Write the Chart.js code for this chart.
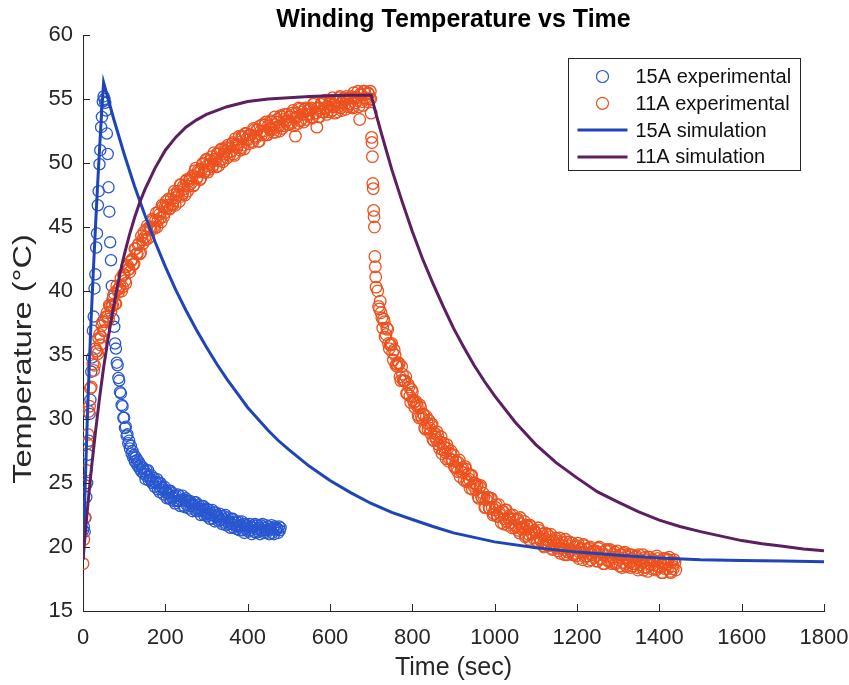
<!DOCTYPE html>
<html>
<head>
<meta charset="utf-8">
<script src="https://cdn.jsdelivr.net/npm/chart.js@4.4.1/dist/chart.umd.min.js"></script>
<style>
  html, body { margin: 0; padding: 0; background: #fff; }
  #wrap { width: 849px; height: 685px; }
</style>
</head>
<body>
<div id="wrap"><canvas id="chart" width="849" height="685"></canvas></div>
<script>
// --- data ---
// 15A experimental, one sample every 2 s from t = 0
const exp15Start = 0;
const exp15Interval = 2;
const exp15Temp = [
  21.3, 21.6, 21.2, 22.3, 23.9, 25.0, 27.2, 28.3, 30.4, 31.5, 33.7, 34.8, 36.9, 38.0,
  40.2, 41.3, 43.4, 44.5, 46.7, 47.8, 49.9, 51.0, 52.8, 53.6, 54.8, 55.2, 55.0, 54.7,
  54.1, 52.3, 50.7, 48.1, 46.2, 43.8, 42.4, 40.4, 39.4, 37.8, 37.2, 35.9, 35.5, 34.4, 34.2,
  33.2, 33.0, 32.1, 32.0, 31.1, 31.0, 30.1, 30.1, 29.3, 29.4, 28.7, 28.8, 28.1, 28.3, 27.7,
  27.9, 27.3, 27.5, 27.0, 27.2, 26.7, 27.0, 26.5, 26.8, 26.3, 26.6, 26.1, 26.4, 25.9, 26.2,
  26.2, 25.7, 25.9, 25.3, 26.0, 25.5, 26.0, 25.2, 25.5, 25.3, 25.6, 25.0,
  25.1, 25.4, 24.7, 25.1, 25.0, 25.3, 24.5, 25.0, 24.3, 25.0, 24.5, 24.7,
  24.6, 24.1, 24.7, 24.3, 24.4, 23.8, 24.2, 24.4, 23.8, 24.4, 23.7, 23.9,
  24.2, 23.6, 23.9, 23.4, 24.0, 23.6, 24.1,
  23.6, 24.0, 23.2, 23.7, 23.6, 24.0, 23.2, 23.7, 23.1, 23.8, 23.3, 23.6,
  23.5, 23.0, 23.6, 23.2, 23.4, 22.8, 23.3, 23.5, 22.9, 23.5, 22.8, 23.0,
  23.3, 22.8, 23.0, 22.5, 23.2, 22.8, 23.2, 22.5, 22.9, 22.6, 23.0, 22.4,
  22.6, 22.9, 22.2, 22.7, 22.5, 22.9, 22.2, 22.7, 22.0, 22.7, 22.3, 22.5,
  22.4, 22.0, 22.6, 22.1, 22.4, 21.8, 22.2, 22.4, 21.9, 22.5, 21.7, 22.0,
  22.3, 21.8, 22.0, 21.5, 22.2, 21.8, 22.2, 21.5, 21.9, 21.7, 22.0, 21.4,
  21.6, 22.0, 21.3, 21.7, 21.6, 22.0, 21.3, 21.8, 21.1, 21.8, 21.4, 21.7,
  21.6, 21.2, 21.8, 21.3, 21.6, 21.0, 21.5, 21.7, 21.2, 21.8, 21.1, 21.4,
  21.7, 21.2, 21.5, 21.0, 21.7, 21.3, 21.8, 21.1, 21.5, 21.3, 21.7, 21.1,
  21.3, 21.6, 21.0, 21.4, 21.4, 21.7, 21.1, 21.5, 21.0, 21.6, 21.3, 21.5,
  21.4, 21.1, 21.6, 21.3, 21.5
];

// 11A experimental, logged in stretches with different sample spacing
const exp11StartTemp = [18.7, 20.6, 22.3, 24.8, 26.0, 28.1, 28.8, 30.6, 31.0, 32.4, 32.5]; // t = 0..20, every 2 s
const exp11HeatTemp = [ // t = 24..696, every 4 s
  34.3, 34.2, 35.3, 35.1, 36.6, 36.4, 37.6, 36.9, 38.0, 38.0, 38.9, 38.4,
  38.9, 39.8, 39.0, 40.1, 40.2, 41.0, 40.3, 41.3, 40.6, 42.0, 41.7, 42.3,
  42.5, 42.1, 43.3, 42.9, 43.7, 43.0, 44.0, 44.6, 44.0, 45.1, 44.2, 44.9,
  45.6, 45.0, 45.5, 45.0, 46.2, 45.7, 46.7, 45.8, 46.6, 46.5, 47.2, 46.5,
  46.8, 47.5, 46.7, 47.6, 47.5, 48.3, 47.4, 48.2, 47.5, 48.7, 48.2, 48.8,
  48.8, 48.2, 49.4, 48.8, 49.4, 48.7, 49.5, 50.0, 49.3, 50.3, 49.3, 49.9,
  50.5, 49.8, 50.3, 49.7, 50.8, 50.2, 51.1, 50.1, 50.9, 50.7, 51.4, 50.6,
  50.9, 51.6, 50.6, 51.5, 51.4, 52.1, 51.2, 52.0, 51.1, 52.3, 51.8, 52.2,
  52.2, 51.6, 52.6, 52.0, 52.6, 51.7, 52.5, 53.0, 52.2, 53.2, 52.2, 52.7,
  53.3, 52.6, 53.0, 52.4, 53.4, 52.9, 53.7, 52.7, 53.4, 53.2, 53.8, 53.0,
  53.2, 53.9, 52.9, 52.1, 53.6, 54.3, 53.3, 54.0, 53.2, 54.3, 53.8, 54.2,
  54.2, 53.5, 54.6, 53.9, 52.8, 53.6, 54.3, 54.7, 54.0, 54.9, 53.8, 54.4,
  54.9, 54.1, 54.6, 53.9, 54.9, 54.4, 55.2, 54.1, 54.9, 54.6, 55.2, 54.4,
  54.6, 55.2, 54.3, 55.1, 54.9, 55.6, 53.4, 55.3, 54.5, 55.6, 55.0, 55.5,
  55.0
];
const exp11HeatTempB = [ // t = 26..694, every 4 s (in-between samples)
  33.8, 35.5, 35.3, 36.3, 35.8, 37.3, 36.9, 37.6, 38.3, 37.8, 38.8, 38.8,
  39.6, 39.0, 40.4, 39.9, 40.4, 40.0, 41.3, 40.8, 41.9, 41.7, 41.5, 42.4,
  42.1, 43.3, 42.9, 43.6, 42.9, 44.3, 43.7, 44.2, 44.8, 44.1, 45.0, 44.8,
  45.5, 44.9, 46.1, 45.5, 46.0, 45.4, 46.6, 46.1, 47.0, 46.7, 46.4, 47.2,
  46.7, 47.8, 47.3, 47.8, 47.0, 48.3, 47.6, 48.0, 48.6, 47.8, 48.6, 48.4,
  49.0, 48.3, 49.6, 48.9, 49.3, 48.8, 49.9, 49.3, 50.2, 49.8, 49.5, 50.2,
  49.7, 50.8, 50.2, 50.7, 49.8, 51.0, 50.3, 50.7, 51.2, 50.4, 51.2, 50.9,
  51.5, 50.7, 51.9, 51.2, 51.6, 51.0, 52.1, 51.4, 52.3, 51.9, 51.5, 52.2,
  51.7, 52.7, 52.1, 52.6, 51.7, 52.9, 52.2, 52.5, 53.0, 52.2, 52.9, 52.6,
  53.2, 52.4, 53.6, 52.8, 53.2, 52.5, 53.6, 52.9, 53.8, 53.3, 53.0, 53.6,
  53.1, 54.1, 53.5, 53.9, 53.1, 54.2, 53.4, 53.8, 54.2, 53.4, 54.1, 53.8,
  54.3, 53.6, 54.7, 53.9, 54.3, 53.6, 54.6, 54.0, 54.8, 54.3, 54.0, 54.6,
  54.0, 55.1, 54.4, 54.8, 54.0, 55.1, 54.3, 54.7, 55.1, 54.2, 55.0, 54.6,
  55.1, 54.4, 55.5, 54.7, 55.1, 54.4, 55.4, 54.8, 55.6, 55.1, 54.8, 55.4
];
const exp11DropTemp = [55.6, 55.0, 53.9, 52.0, 51.6, 50.5, 48.4, 48.0, 46.3, 45.8, 45.0, 42.7, 41.9, 41.1, 40.3]; // t = 698..712, every 1 s
const exp11CoolTemp = [ // t = 716..1440, every 4 s
  40.0, 38.6, 38.3, 37.1, 37.6, 36.6, 37.0, 35.5, 35.8, 35.2, 35.4, 34.2,
  34.1, 34.3, 33.0, 33.5, 33.0, 33.3, 32.0, 32.5, 31.3, 32.1, 31.3, 31.4,
  31.0, 30.1, 30.9, 30.0, 30.3, 29.2, 29.7, 29.9, 28.9, 29.6, 28.3, 28.6,
  29.0, 28.0, 28.2, 27.3, 28.1, 27.4, 28.0, 26.7, 27.3, 26.8, 27.2, 26.2,
  26.2, 26.6, 25.5, 26.1, 25.8, 26.3, 25.1, 25.7, 24.6, 25.6, 24.8, 25.0,
  24.8, 23.9, 24.7, 23.9, 24.2, 23.1, 23.7, 23.9, 23.0, 23.8, 22.5, 22.9,
  23.3, 22.4, 22.7, 21.9, 22.8, 22.2, 22.9, 21.7, 22.3, 21.9, 22.5, 21.5,
  21.6, 22.2, 21.1, 21.8, 21.5, 22.0, 20.9, 21.6, 20.6, 21.6, 21.0, 21.3,
  21.1, 20.4, 21.3, 20.5, 21.0, 20.0, 20.6, 21.0, 20.1, 21.0, 19.8, 20.3,
  20.7, 19.9, 20.2, 19.5, 20.4, 19.8, 20.6, 19.4, 20.1, 19.7, 20.3, 19.4,
  19.5, 20.1, 19.1, 19.8, 19.6, 20.2, 19.2, 19.8, 18.9, 20.0, 19.4, 19.7,
  19.6, 18.9, 19.9, 19.1, 19.6, 18.7, 19.4, 19.8, 18.9, 19.8, 18.7, 19.2,
  19.6, 18.8, 19.2, 18.5, 19.4, 18.8, 19.6, 18.5, 19.2, 18.8, 19.4, 18.5,
  18.7, 19.3, 18.2, 19.0, 18.8, 19.4, 18.4, 19.0, 18.1, 19.2, 18.6, 19.0,
  18.9, 18.2, 19.1, 18.4, 18.9, 18.0, 18.7, 19.1, 18.3, 19.2, 18.0, 18.5,
  19.0, 18.2
];
const exp11CoolTempB = [ // t = 718..1438, every 4 s (in-between samples)
  38.8, 39.2, 37.9, 37.8, 36.4, 37.1, 35.9, 35.8, 35.9, 34.6, 35.0, 34.3,
  34.4, 33.3, 34.1, 33.0, 33.0, 32.0, 32.7, 31.8, 32.3, 31.5, 30.9, 31.2,
  30.3, 31.1, 30.2, 30.4, 29.3, 30.2, 29.2, 29.3, 29.5, 28.4, 28.9, 28.4,
  28.7, 27.7, 28.6, 27.6, 27.8, 26.9, 27.7, 26.9, 27.5, 26.8, 26.3, 26.7,
  25.9, 26.8, 25.9, 26.2, 25.2, 26.1, 25.2, 25.3, 25.6, 24.5, 25.0, 24.5,
  24.8, 23.8, 24.8, 23.8, 23.9, 23.1, 23.9, 23.1, 23.8, 23.1, 22.6, 23.1,
  22.4, 23.3, 22.5, 22.8, 21.8, 22.9, 22.0, 22.2, 22.5, 21.5, 22.2, 21.7,
  22.1, 21.3, 22.3, 21.4, 21.6, 20.8, 21.7, 21.0, 21.7, 21.1, 20.7, 21.2,
  20.5, 21.5, 20.7, 21.0, 20.1, 21.1, 20.2, 20.5, 20.8, 19.9, 20.5, 20.1,
  20.5, 19.7, 20.7, 19.9, 20.1, 19.4, 20.4, 19.6, 20.4, 19.8, 19.4, 20.0,
  19.3, 20.3, 19.6, 19.9, 19.0, 20.1, 19.3, 19.5, 19.9, 19.0, 19.7, 19.2,
  19.7, 18.9, 20.0, 19.1, 19.4, 18.7, 19.7, 19.0, 19.7, 19.2, 18.8, 19.4,
  18.7, 19.7, 19.0, 19.4, 18.4, 19.5, 18.7, 19.0, 19.4, 18.4, 19.1, 18.7,
  19.2, 18.4, 19.4, 18.6, 18.9, 18.2, 19.2, 18.4, 19.2, 18.7, 18.3, 18.9,
  18.3, 19.3, 18.5, 18.9, 18.0, 19.1, 18.3, 18.6, 19.0, 18.1, 18.8, 18.3,
  18.8
];

// simulations
const sim15Time = [0, 5, 10, 15, 20, 25, 30, 35, 40, 45, 50, 75, 100, 125, 150, 175, 200, 225, 250, 275,
  300, 325, 350, 375, 400, 425, 450, 475, 500, 550, 600, 650, 700, 750, 800, 850, 900, 950, 1000, 1100,
  1200, 1300, 1400, 1500, 1600, 1700, 1800];
const sim15Temp = [19.0, 24.5, 29.5, 34.0, 38.0, 41.5, 44.8, 48.0, 51.0, 53.8, 56.3, 53.4, 50.7, 48.2, 45.95, 43.85, 41.9, 40.1, 38.5, 37.0,
  35.6, 34.3, 33.1, 32.0, 30.9, 30.0, 29.1, 28.3, 27.6, 26.3, 25.2, 24.25, 23.4, 22.7, 22.15, 21.6, 21.1, 20.75, 20.4, 19.95,
  19.6, 19.35, 19.15, 19.0, 18.95, 18.9, 18.85];

const sim11Time = [0, 10, 20, 30, 40, 50, 60, 70, 80, 90, 100, 112.5, 125, 137.5, 150, 175, 200, 225, 250, 275,
  300, 350, 400, 450, 500, 550, 600, 650, 700, 712.5, 725, 737.5, 750, 775, 800, 825, 850, 875, 900, 925,
  950, 975, 1000, 1050, 1100, 1150, 1200, 1250, 1300, 1350, 1400, 1450, 1500, 1550, 1600, 1650, 1700, 1750, 1800];
const sim11Temp = [19.0, 22.7, 26.0, 28.9, 31.6, 34.0, 36.1, 38.0, 39.75, 41.4, 42.8, 44.35, 45.7, 46.9, 47.9, 49.6, 51.0, 52.0, 52.8, 53.35,
  53.8, 54.4, 54.8, 55.0, 55.1, 55.2, 55.25, 55.3, 55.3, 53.75, 52.3, 50.9, 49.5, 47.0, 44.65, 42.5, 40.6, 38.8, 37.1, 35.6,
  34.2, 32.95, 31.8, 29.75, 28.0, 26.57, 25.4, 24.3, 23.5, 22.75, 22.1, 21.6, 21.2, 20.85, 20.5, 20.25, 20.05, 19.85, 19.7];

const seriesLabels = ['15A experimental', '11A experimental', '15A simulation', '11A simulation'];
const xTicks = [0, 200, 400, 600, 800, 1000, 1200, 1400, 1600, 1800];
const yTicks = [15, 20, 25, 30, 35, 40, 45, 50, 55, 60];

// --- build points ---
function sampled(start, interval, temps) {
  return temps.map((t, i) => ({ x: start + i * interval, y: t }));
}
function paired(times, temps) {
  return times.map((t, i) => ({ x: t, y: temps[i] }));
}

const exp15Points = sampled(exp15Start, exp15Interval, exp15Temp);
const exp11Points = [].concat(
  sampled(0, 2, exp11StartTemp),
  sampled(24, 4, exp11HeatTemp),
  sampled(26, 4, exp11HeatTempB),
  sampled(698, 1, exp11DropTemp),
  sampled(716, 4, exp11CoolTemp),
  sampled(718, 4, exp11CoolTempB)
);

const BLUE_PTS = '#2857d0';
const ORANGE_PTS = '#ec521e';
const BLUE_LINE = '#1e44b6';
const PURPLE_LINE = '#5c1f5f';
const AXIS = '#262626';
const FONT = '"Liberation Sans", Arial, Helvetica, sans-serif';

Chart.defaults.font.family = FONT;
Chart.defaults.color = AXIS;

// MATLAB style: title over the axes, inward ticks, legend box inside the axes, stretched ylabel
const matlabLook = {
  id: 'matlabLook',
  afterDraw(chart) {
    const { ctx, chartArea: a, scales: { x, y } } = chart;
    ctx.save();

    ctx.fillStyle = '#000';
    ctx.font = 'bold 25px ' + FONT;
    ctx.textAlign = 'center';
    ctx.textBaseline = 'alphabetic';
    ctx.fillText('Winding Temperature vs Time', (a.left + a.right) / 2, 27);

    ctx.strokeStyle = AXIS;
    ctx.lineWidth = 1;
    ctx.beginPath();
    x.ticks.forEach(t => {
      const px = Math.round(x.getPixelForValue(t.value)) + 0.5;
      ctx.moveTo(px, a.bottom);
      ctx.lineTo(px, a.bottom - 7);
    });
    y.ticks.forEach(t => {
      const py = Math.round(y.getPixelForValue(t.value)) + 0.5;
      ctx.moveTo(a.left, py);
      ctx.lineTo(a.left + 7, py);
    });
    ctx.stroke();

    // y label
    ctx.save();
    ctx.translate(24, 359);
    ctx.rotate(-Math.PI / 2);
    ctx.scale(1.3, 1);
    ctx.font = '25px ' + FONT;
    ctx.fillStyle = AXIS;
    ctx.textAlign = 'center';
    ctx.textBaseline = 'middle';
    ctx.fillText('Temperature (°C)', 0, 0);
    ctx.restore();

    // legend
    const bx = Math.round(a.right - 256) + 0.5, by = Math.round(a.top + 23) + 0.5, bw = 232, bh = 112;
    ctx.fillStyle = '#fff';
    ctx.fillRect(bx, by, bw, bh);
    ctx.strokeStyle = AXIS;
    ctx.strokeRect(bx, by, bw, bh);
    ctx.font = '20px ' + FONT;
    ctx.textAlign = 'left';
    ctx.textBaseline = 'middle';
    chart.data.datasets.forEach((ds, i) => {
      const yc = by + 18 + i * 26.8;
      if (ds.showLine) {
        ctx.strokeStyle = ds.borderColor;
        ctx.lineWidth = 3;
        ctx.beginPath();
        ctx.moveTo(bx + 9, yc);
        ctx.lineTo(bx + 59, yc);
        ctx.stroke();
      } else {
        ctx.strokeStyle = ds.borderColor;
        ctx.lineWidth = 1.2;
        ctx.beginPath();
        ctx.arc(bx + 34, yc, 6, 0, Math.PI * 2);
        ctx.stroke();
      }
      ctx.fillStyle = '#111';
      ctx.fillText(ds.label, bx + 67, yc + 1);
    });
    ctx.restore();
  }
};

new Chart(document.getElementById('chart'), {
  type: 'scatter',
  data: {
    datasets: [
      {
        label: seriesLabels[0], data: exp15Points, showLine: false, order: 3,
        borderColor: BLUE_PTS, backgroundColor: 'rgba(0,0,0,0)',
        pointRadius: 5.6, borderWidth: 1.3
      },
      {
        label: seriesLabels[1], data: exp11Points, showLine: false, order: 2,
        borderColor: ORANGE_PTS, backgroundColor: 'rgba(0,0,0,0)',
        pointRadius: 5.8, borderWidth: 1.3
      },
      {
        label: seriesLabels[2], data: paired(sim15Time, sim15Temp), showLine: true, order: 1,
        borderColor: BLUE_LINE, borderWidth: 3, pointRadius: 0, tension: 0
      },
      {
        label: seriesLabels[3], data: paired(sim11Time, sim11Temp), showLine: true, order: 0,
        borderColor: PURPLE_LINE, borderWidth: 3, pointRadius: 0, tension: 0
      }
    ]
  },
  options: {
    responsive: false,
    animation: false,
    devicePixelRatio: 1,
    layout: { padding: { left: 0, right: 25, top: 35, bottom: 0 } },
    plugins: {
      legend: { display: false },
      tooltip: { enabled: false },
      title: { display: false }
    },
    scales: {
      x: {
        type: 'linear',
        min: 0, max: 1800,
        afterBuildTicks: s => { s.ticks = xTicks.map(v => ({ value: v })); },
        afterFit: s => { s.height = 74; s.paddingLeft = 0; s.paddingRight = 0; },
        grid: { display: false, drawTicks: false },
        border: { display: true, color: AXIS, width: 1 },
        ticks: { font: { size: 22 }, color: AXIS, padding: 14, maxRotation: 0, autoSkip: false, callback: v => String(v) },
        title: { display: true, text: 'Time (sec)', font: { size: 25 }, color: AXIS, padding: { top: 0, bottom: 2 } }
      },
      y: {
        type: 'linear',
        min: 15, max: 60,
        afterBuildTicks: s => { s.ticks = yTicks.map(v => ({ value: v })); },
        afterFit: s => { s.width = 83; },
        grid: { display: false, drawTicks: false },
        border: { display: true, color: AXIS, width: 1 },
        ticks: { font: { size: 22 }, color: AXIS, padding: 10, callback: v => String(v) }
      }
    }
  },
  plugins: [matlabLook]
});
</script>
</body>
</html>
